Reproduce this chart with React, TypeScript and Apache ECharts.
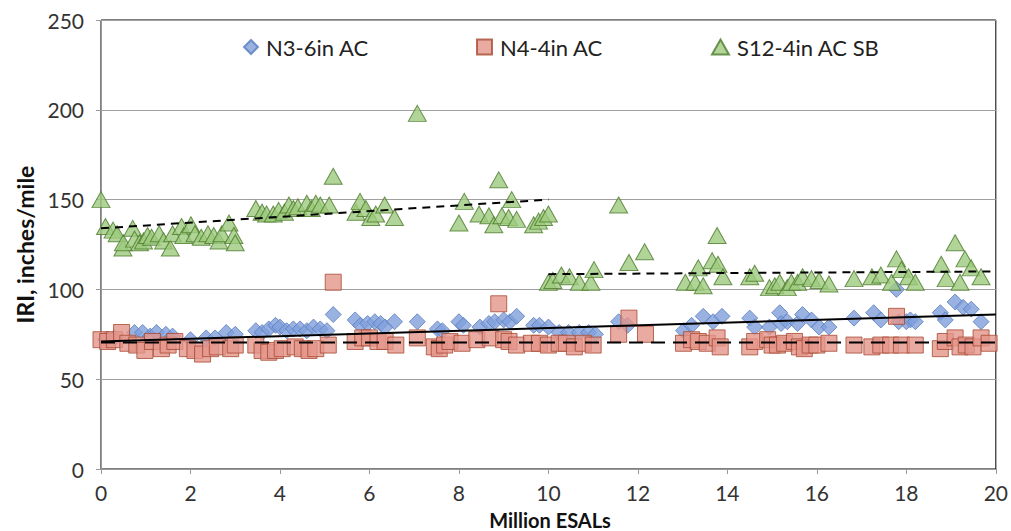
import React, { useEffect, useRef } from "react";
import * as echarts from "echarts";

const xTicks = [0, 2, 4, 6, 8, 10, 12, 14, 16, 18, 20];
const yTicks = [0, 50, 100, 150, 200, 250];

const n3Data: [number, number][] = [
  [0.1, 72], [0.3, 73], [0.75, 76], [0.93, 76], [1.1, 74], [1.24, 76], [1.45, 75], [1.6, 74],
  [2.0, 72], [2.35, 73], [2.55, 73], [2.8, 76], [3.0, 75], [3.46, 77], [3.6, 76], [3.75, 78],
  [3.9, 80], [4.0, 79], [4.15, 77], [4.3, 78], [4.45, 78], [4.6, 77], [4.75, 79], [4.9, 78],
  [5.05, 77], [5.19, 86], [5.68, 83], [5.8, 80], [5.96, 81], [6.12, 82], [6.25, 81], [6.35, 79],
  [6.56, 82], [7.07, 82], [7.52, 78], [7.63, 77], [8.0, 82], [8.1, 80], [8.47, 79], [8.67, 81],
  [8.8, 82], [9.0, 83], [9.14, 82], [9.29, 85], [9.67, 80], [9.8, 80], [10.0, 79], [10.24, 76],
  [10.45, 76], [10.69, 76], [10.9, 76], [11.05, 75], [11.57, 82], [11.77, 80], [13.02, 77],
  [13.2, 80], [13.46, 85], [13.68, 82], [13.88, 85], [14.5, 84], [14.61, 79], [14.94, 79],
  [15.17, 87], [15.2, 81], [15.34, 82], [15.57, 81], [15.68, 86], [15.88, 83], [16.05, 79],
  [16.27, 79], [16.83, 84], [17.27, 87], [17.43, 83], [17.78, 100], [17.83, 82], [18.0, 82],
  [18.09, 83], [18.2, 82], [18.76, 87], [18.87, 83], [19.09, 93], [19.27, 90], [19.45, 89],
  [19.67, 82],
];

const n4Data: [number, number][] = [
  [0.0, 72], [0.15, 71], [0.3, 72], [0.46, 76], [0.6, 70], [0.8, 69], [0.98, 66], [1.15, 71],
  [1.35, 67], [1.5, 69], [1.65, 71], [1.93, 67], [2.1, 66], [2.27, 64], [2.45, 67], [2.6, 68],
  [2.9, 67], [3.0, 69], [3.46, 69], [3.6, 66], [3.75, 65], [3.9, 66], [4.05, 67], [4.34, 68],
  [4.5, 67], [4.65, 66], [4.8, 67], [5.08, 69], [5.19, 104], [5.68, 71], [5.85, 73], [6.0, 73],
  [6.19, 71], [6.35, 71], [6.59, 69], [7.07, 73], [7.45, 68], [7.56, 67], [7.68, 69], [7.8, 71],
  [8.07, 70], [8.4, 72], [8.7, 73], [8.89, 92], [9.0, 72], [9.12, 71], [9.29, 69], [9.62, 70],
  [9.8, 70], [10.0, 69], [10.24, 70], [10.4, 70], [10.58, 68], [10.78, 70], [11.0, 69],
  [11.57, 75], [11.8, 84], [12.17, 75], [13.02, 70], [13.2, 72], [13.35, 71], [13.55, 70],
  [13.77, 73], [13.84, 68], [14.5, 68], [14.61, 71], [14.9, 72], [15.0, 69], [15.12, 69],
  [15.28, 70], [15.5, 71], [15.61, 68], [15.72, 67], [15.85, 69], [16.0, 69], [16.27, 70],
  [16.83, 69], [17.23, 68], [17.43, 69], [17.65, 69], [17.78, 85], [17.89, 69], [18.2, 69],
  [18.76, 67], [18.87, 71], [19.09, 73], [19.2, 68], [19.34, 69], [19.49, 68], [19.67, 73],
  [19.85, 70],
];

const s12Data: [number, number][] = [
  [0.0, 150], [0.1, 135], [0.27, 133], [0.36, 131], [0.49, 123], [0.5, 126], [0.71, 134],
  [0.75, 128], [0.86, 126], [0.95, 127], [1.04, 130], [1.13, 129], [1.3, 131], [1.4, 127],
  [1.55, 123], [1.6, 131], [1.8, 135], [1.85, 130], [2.01, 136], [2.1, 131], [2.24, 129],
  [2.39, 131], [2.52, 130], [2.64, 127], [2.7, 131], [2.86, 137], [2.97, 130], [3.0, 126],
  [3.46, 145], [3.6, 143], [3.7, 142], [3.85, 142], [3.97, 144], [4.1, 143], [4.2, 147],
  [4.3, 145], [4.4, 146], [4.6, 148], [4.7, 145], [4.8, 148], [4.9, 147], [5.1, 147],
  [5.19, 163], [5.7, 143], [5.79, 149], [5.92, 145], [6.03, 140], [6.14, 142], [6.34, 147],
  [6.56, 140], [7.07, 198], [8.0, 137], [8.12, 149], [8.45, 142], [8.67, 141], [8.78, 136],
  [8.89, 161], [8.96, 141], [9.11, 140], [9.18, 150], [9.29, 139], [9.67, 136], [9.78, 138],
  [9.89, 140], [10.0, 142], [10.0, 104], [10.1, 105], [10.29, 108], [10.47, 107], [10.69, 104],
  [10.95, 104], [11.02, 111], [11.57, 147], [11.8, 115], [12.15, 121], [13.06, 104],
  [13.28, 104], [13.35, 112], [13.46, 102], [13.66, 116], [13.77, 130], [13.79, 114],
  [13.9, 107], [14.5, 107], [14.61, 109], [14.94, 101], [15.06, 102], [15.17, 104],
  [15.34, 101], [15.43, 104], [15.57, 104], [15.68, 107], [15.88, 106], [16.05, 105],
  [16.27, 103], [16.83, 106], [17.23, 107], [17.43, 108], [17.67, 104], [17.78, 117],
  [17.89, 111], [18.05, 107], [18.2, 104], [18.78, 114], [18.89, 106], [19.09, 126],
  [19.2, 104], [19.31, 117], [19.45, 112], [19.67, 107],
];

const n3Trend: [number, number][] = [[0, 71], [20, 86]];
const n4Trend: [number, number][] = [[0, 70.5], [20, 70.5]];
const s12TrendA: [number, number][] = [[0, 134], [10, 150]];
const s12TrendB: [number, number][] = [[10, 108.5], [20, 110]];

const FONT = "Lato";

export default function App() {
  const ref = useRef<HTMLDivElement>(null);
  useEffect(() => {
    if (!ref.current) return;
    const chart = echarts.init(ref.current, null, { renderer: "svg" });
    const legendText = { fontFamily: FONT, fontSize: 22, color: "#222", padding: [0, 0, 0, 3] };
    chart.setOption({
      animation: false,
      backgroundColor: "#fff",
      grid: {
        left: 101, right: 8, top: 20, bottom: 62,
        show: true, borderColor: "#000", borderWidth: 1,
      },
      legend: [
        { data: [{ name: "N3-6in AC", icon: "diamond" }], left: 238, top: 31, itemWidth: 14, itemHeight: 14, textStyle: legendText },
        { data: [{ name: "N4-4in AC", icon: "rect" }], left: 471, top: 31, itemWidth: 15, itemHeight: 15, textStyle: legendText },
        { data: [{ name: "S12-4in AC SB", icon: "triangle" }], left: 706, top: 31, itemWidth: 17, itemHeight: 15, textStyle: legendText },
      ],
      xAxis: {
        type: "value", min: 0, max: 20, interval: 2,
        axisLine: { show: true, lineStyle: { color: "#999", width: 1 } },
        axisTick: { show: true, length: 5, lineStyle: { color: "#999" } },
        splitLine: { show: false },
        axisLabel: { fontFamily: FONT, fontSize: 21, lineHeight: 21, color: "#333", margin: 13 },
      },
      yAxis: {
        type: "value", min: 0, max: 250, interval: 50,
        name: "IRI, inches/mile", nameLocation: "middle", nameGap: 64,
        nameTextStyle: { fontFamily: FONT, fontSize: 23, fontWeight: "bold", color: "#111" },
        axisLine: { show: true, lineStyle: { color: "#999", width: 1 } },
        axisTick: { show: true, length: 5, lineStyle: { color: "#999" } },
        splitLine: { show: true, lineStyle: { color: "#a0a0a0", width: 1 } },
        axisLabel: { fontFamily: FONT, fontSize: 21, color: "#333", margin: 17 },
      },
      graphic: [
        {
          type: "text", x: 550, y: 520,
          style: {
            text: "Million ESALs", fontFamily: FONT, fontSize: 20, lineHeight: 20, fontWeight: "bold", fill: "#111",
            align: "center", verticalAlign: "middle",
          },
        },
      ],
      series: [
        {
          name: "N3-6in AC", type: "scatter", symbol: "diamond", symbolSize: 16, data: n3Data, z: 3,
          itemStyle: { color: "#7f9fdb", borderColor: "#5a7dbf", borderWidth: 1 },
        },
        {
          name: "N4-4in AC", type: "scatter", symbol: "rect", symbolSize: 16, data: n4Data, z: 4,
          itemStyle: { color: "#e3958b", borderColor: "#a84a32", borderWidth: 1 },
        },
        {
          name: "S12-4in AC SB", type: "scatter", symbol: "triangle", symbolSize: [18, 16], data: s12Data, z: 5,
          itemStyle: { color: "#9dca7e", borderColor: "#4c7a2c", borderWidth: 1 },
        },
        {
          type: "line", data: n3Trend, showSymbol: false, symbol: "none", z: 6, silent: true,
          lineStyle: { color: "#000", width: 2 },
        },
        {
          type: "line", data: n4Trend, showSymbol: false, symbol: "none", z: 6, silent: true,
          lineStyle: { color: "#000", width: 2, type: [14, 8] },
        },
        {
          type: "line", data: s12TrendA, showSymbol: false, symbol: "none", z: 6, silent: true,
          lineStyle: { color: "#000", width: 2, type: [8, 6] },
        },
        {
          type: "line", data: s12TrendB, showSymbol: false, symbol: "none", z: 6, silent: true,
          lineStyle: { color: "#000", width: 2, type: [8, 6] },
        },
      ],
    });
    return () => chart.dispose();
  }, []);
  return <div ref={ref} style={{ width: 1011, height: 531, position: "absolute", left: 0, top: 0 }} />;
}
